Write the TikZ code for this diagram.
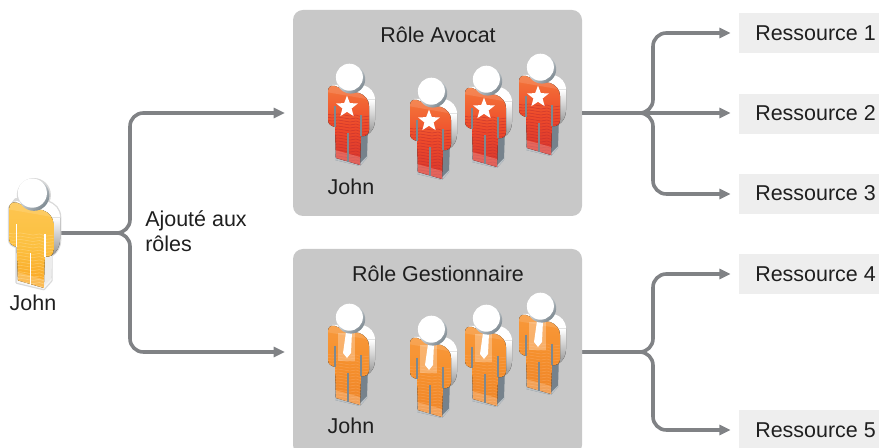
\documentclass[tikz,border=0pt]{standalone}
\usepackage{fontspec}
\setmainfont{Liberation Sans}
\usetikzlibrary{arrows.meta,calc,shapes.geometric}
\definecolor{rolegray}{HTML}{C8C8C8}
\definecolor{resgray}{HTML}{EEEEEE}
\definecolor{linegray}{HTML}{808285}
\definecolor{legshadow}{HTML}{76828C}
\definecolor{legpale}{HTML}{EDEDED}
\definecolor{slit}{HTML}{7C8890}
\definecolor{redtop}{HTML}{F47A3C}
\definecolor{redmid}{HTML}{EE4A2A}
\definecolor{redbot}{HTML}{D8352E}
\definecolor{redtex}{HTML}{B82A30}
\definecolor{ortop}{HTML}{F8993C}
\definecolor{ormid}{HTML}{F58F2C}
\definecolor{orbot}{HTML}{EE8428}
\definecolor{ortex}{HTML}{F9A860}
\definecolor{yetop}{HTML}{FDC652}
\definecolor{yemid}{HTML}{FCC040}
\definecolor{yebot}{HTML}{FAA21E}
\definecolor{yetex}{HTML}{FFD98A}
\tikzset{
  x=0.75pt,y=-0.75pt,
  rolebox/.style={draw=none,fill=rolegray,rounded corners=7.5pt,minimum width=216.75pt,minimum height=154.5pt,inner sep=0pt},
  resbox/.style={draw=none,fill=resgray,minimum width=105pt,minimum height=30pt,inner sep=0pt},
  lab/.style={font=\fontsize{16.1pt}{18.75pt}\selectfont,text=black!88,inner sep=0pt},
  conn/.style={draw=linegray,line width=2.7pt,rounded corners=10pt},
  arrowed/.style={conn,-{Triangle[length=8.5pt,width=7.5pt]},shorten >=6pt},
}
\newcommand{\bodypath}{(-22,13) .. controls (-22,9) and (-19,7) .. (-15,8) -- (-3,13) -- (9,15) .. controls (15,17) and (19,22) .. (19,28) -- (19,52) .. controls (19,56) and (16,59) .. (11,58) -- (10,87) -- (-14,80) -- (-15,49) .. controls (-19,48) and (-22,46) .. (-22,42) -- cycle}
\newcommand{\silhouette}{(-22,13) -- (-16,5) -- (13,7) .. controls (20,9) and (25,14) .. (25,22) -- (25,42) .. controls (25,49) and (22,54) .. (17,57) -- (17,80) -- (10,88) -- (-15,82) -- (-15,49) .. controls (-19,48) and (-22,46) .. (-22,42) -- cycle}
\def\legcol{legshadow}
% #1 x, #2 y, #3 scale, #4/#5/#6 gradient colours, #7 texture colour, #8 slit colour, #9 insignia
\newcommand{\persona}[9]{%
  \begin{scope}[shift={(#1,#2)},scale=#3]
    % back of the figure
    \fill[\legcol] (10,40) -- (18,50) -- (17,80) -- (10,88) -- (-15,82) -- (-14,70) -- cycle;
    \fill[\legcol!50!white] (-15,82) -- (10,88) -- (17,80) -- (17.5,78) -- (10,85.5) -- (-15,79) -- cycle;
    \fill[white] (-18,7) -- (13,7) .. controls (20,9) and (25,14) .. (25,22) -- (25,42) .. controls (25,49) and (22,54) .. (17,57) -- (10,50) -- cycle;
    \fill[top color=white,bottom color=gray!85] (10,22) -- (25,22) -- (25,42) .. controls (25,49) and (22,54) .. (17,57) -- (10,50) -- cycle;
    % front
    \begin{scope}
      \clip \bodypath;
      \fill[top color=#4,bottom color=#6,middle color=#5] (-24,5) rectangle (22,90);
      \foreach \yy in {36,39,...,84}{
        \draw[#7,line width=0.45pt,opacity=0.55] (-24,\yy) -- (-18,\yy+1) -- (-12,\yy) -- (-6,\yy+1) -- (0,\yy+2) -- (6,\yy+1) -- (12,\yy+3) -- (20,\yy+2);
      }
      \fill[white,opacity=0.12] (-24,5) -- (22,5) -- (22,22) -- (-24,14) -- cycle;
      \fill[white,opacity=0.22] (-15,72) -- (10,79) -- (10,90) -- (-15,84) -- cycle;
    \end{scope}
    \draw[#8,line width=0.95pt] (-15,28) -- (-15,49);
    \draw[#8,line width=0.95pt] (11,37) -- (11,58);
    \draw[#8,line width=0.95pt] (-2,55) -- (-2,84);
    #9
    % head
    \shade[top color=white,bottom color=slit,shading angle=45] (0.8,1.2) circle (14.4);
    \fill[white] (-0.6,-0.8) circle (13.5);
  \end{scope}}
\newcommand{\starmark}{\node[star,star points=5,star point ratio=2.35,fill=white,draw=none,minimum size=17pt,inner sep=0pt] at (-3,29) {};}
\newcommand{\tiemark}{\fill[white,opacity=0.28] (-12,15) rectangle (5,43);
  \fill[white] (-4,14) -- (2,14) -- (1,35) -- (-3,40) -- (-7,35) -- cycle;}
\begin{document}
\begin{tikzpicture}
\useasboundingbox (0,0) rectangle (879,448);
\clip (0,0) rectangle (879,448);
% role panels
\node[rolebox] (roleA) at (437.5,113) {};
\node[rolebox] (roleG) at (437.5,352) {};
% resources
\node[resbox] (resA) at (809,33) {};
\node[resbox] (resB) at (809,114) {};
\node[resbox] (resC) at (809,194) {};
\node[resbox] (resD) at (809,274) {};
\node[resbox] (resE) at (809,430) {};
\node[lab,anchor=west] (txtA) at (755,33) {Ressource 1};
\node[lab,anchor=west] (txtB) at (755,113) {Ressource 2};
\node[lab,anchor=west] (txtC) at (755,193) {Ressource 3};
\node[lab,anchor=west] (txtD) at (755,274) {Ressource 4};
\node[lab,anchor=west] (txtE) at (755,430) {Ressource 5};
% connectors
\coordinate (johnOut) at (50,233);
\coordinate (trunk) at (130,233);
\coordinate (busA) at (653,113);
\coordinate (busG) at (653,352);
\coordinate (roleAin) at (293,113);
\coordinate (roleGin) at (293,352);
\draw[arrowed] (johnOut) -- (trunk) |- (roleAin);
\draw[arrowed] (johnOut) -- (trunk) |- (roleGin);
\draw[arrowed] (roleA.east) -- (busA) |- (resA.west);
\draw[arrowed] (roleA.east) -- (resB.west |- roleA.east);
\draw[arrowed] (roleA.east) -- (busA) |- (resC.west);
\draw[arrowed] (roleG.east) -- (busG) |- (resD.west);
\draw[arrowed] (roleG.east) -- (busG) |- (resE.west);
% labels
\node[lab] (titleA) at (438,35) {Rôle Avocat};
\node[lab] (titleG) at (438,274) {Rôle Gestionnaire};
\node[lab] (johnA) at (351,187) {John};
\node[lab] (johnG) at (351,426) {John};
\node[lab] (johnL) at (33,303) {John};
\node[lab,anchor=north west,align=left] (added) at (145,210) {Ajouté aux\\rôles};
% figures
\begin{scope}[shift={(33,194)},scale=1.08]
  \filldraw[draw=rolegray!70!white,fill=white,line width=2pt,line join=round] \silhouette;
  \fill[rolegray!70!white] (0.8,1) circle (15.8);
\end{scope}
\def\legcol{legpale}
\persona{33}{194}{1.08}{yetop}{yemid}{yebot}{yetex}{white}{}
\def\legcol{legshadow}
\persona{350}{78}{1}{redtop}{redmid}{redbot}{redtex}{slit}{\starmark}
\persona{432}{92}{1}{redtop}{redmid}{redbot}{redtex}{slit}{\starmark}
\persona{487}{80}{1}{redtop}{redmid}{redbot}{redtex}{slit}{\starmark}
\persona{541}{68}{1}{redtop}{redmid}{redbot}{redtex}{slit}{\starmark}
\persona{350}{318}{1}{ortop}{ormid}{orbot}{ortex}{slit}{\tiemark}
\persona{432}{330}{1}{ortop}{ormid}{orbot}{ortex}{slit}{\tiemark}
\persona{487}{319}{1}{ortop}{ormid}{orbot}{ortex}{slit}{\tiemark}
\persona{541}{307}{1}{ortop}{ormid}{orbot}{ortex}{slit}{\tiemark}
\end{tikzpicture}
\end{document}
